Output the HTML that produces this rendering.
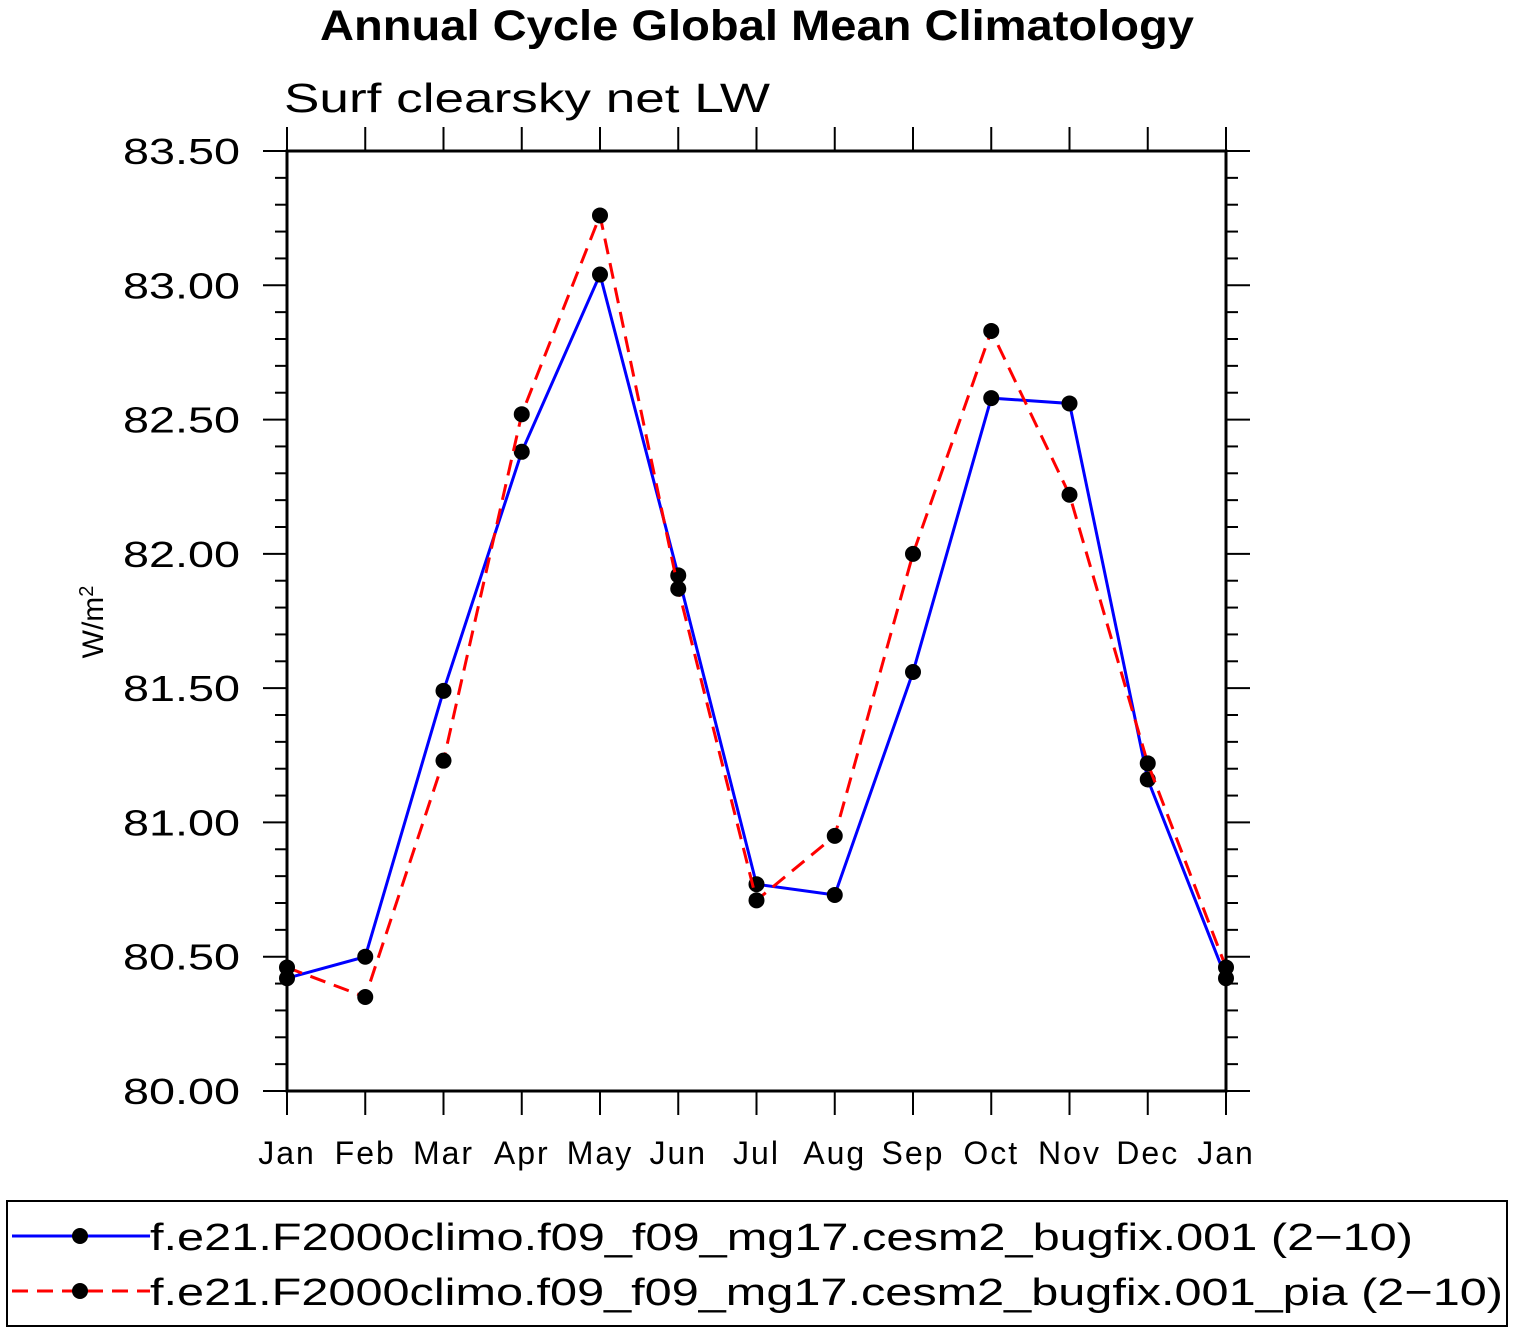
<!DOCTYPE html>
<html><head><meta charset="utf-8"><style>
html,body{margin:0;padding:0;background:#fff}
svg{display:block}
text{font-family:"Liberation Sans","DejaVu Sans",sans-serif}
</style></head><body>
<svg id="chart" width="1514" height="1332" xmlns="http://www.w3.org/2000/svg">
<text x="320" y="40" textLength="874" lengthAdjust="spacingAndGlyphs" font-size="43" font-weight="bold">Annual Cycle Global Mean Climatology</text>
<text x="284" y="112" textLength="486" lengthAdjust="spacingAndGlyphs" font-size="41">Surf clearsky net LW</text>
<text transform="translate(103,622) rotate(-90)" text-anchor="middle" font-size="30">W/m<tspan font-size="20" dy="-10">2</tspan></text>
<g id="axes"></g>
<g id="series"></g>
<rect x="7" y="1201" width="1500" height="125" fill="none" stroke="#000" stroke-width="2"/>
<g>
<line x1="12" y1="1236" x2="150" y2="1236" stroke="#00f" stroke-width="3"/>
<circle cx="80" cy="1236" r="8" fill="#000"/>
<text x="150" y="1250" textLength="1263" lengthAdjust="spacingAndGlyphs" font-size="38">f.e21.F2000climo.f09_f09_mg17.cesm2_bugfix.001 (2−10)</text>
</g>
<g>
<line x1="12" y1="1291" x2="150" y2="1291" stroke="#f00" stroke-width="3" stroke-dasharray="16,9"/>
<circle cx="80" cy="1291" r="8" fill="#000"/>
<text x="150" y="1305" textLength="1353" lengthAdjust="spacingAndGlyphs" font-size="38">f.e21.F2000climo.f09_f09_mg17.cesm2_bugfix.001_pia (2−10)</text>
</g>
</svg>
<script>
const months = ["Jan","Feb","Mar","Apr","May","Jun","Jul","Aug","Sep","Oct","Nov","Dec","Jan"];
const controlValues = [80.42,80.50,81.49,82.38,83.04,81.92,80.77,80.73,81.56,82.58,82.56,81.16,80.42];
const piaValues = [80.46,80.35,81.23,82.52,83.26,81.87,80.71,80.95,82.00,82.83,82.22,81.22,80.46];
const yTicks = ["80.00","80.50","81.00","81.50","82.00","82.50","83.00","83.50"];
const NS="http://www.w3.org/2000/svg";
const X0=287,X1=1226,Y0=1091,Y1=151,YMIN=80,YMAX=83.5;
const xs=i=>X0+(X1-X0)*i/(months.length-1);
const ys=v=>Y0-(v-YMIN)/(YMAX-YMIN)*(Y0-Y1);
function mk(tag,attrs,parent){const e=document.createElementNS(NS,tag);for(const k in attrs)e.setAttribute(k,attrs[k]);parent.appendChild(e);return e;}
const ax=document.getElementById('axes');
const frame=mk('rect',{x:X0,y:Y1,width:X1-X0,height:Y0-Y1,fill:'none',stroke:'#000','stroke-width':3},ax);


for(let k=0;k<=35;k++){const v=80+k*0.1;const y=ys(v);const major=k%5===0;const L=major?24:12;
mk('line',{x1:X0-L,y1:y,x2:X0,y2:y,stroke:'#000','stroke-width':2},ax);
mk('line',{x1:X1,y1:y,x2:X1+L,y2:y,stroke:'#000','stroke-width':2},ax);}
yTicks.forEach(t=>{const el=mk('text',{x:240,y:ys(parseFloat(t))+13,'text-anchor':'end',textLength:117,lengthAdjust:'spacingAndGlyphs','font-size':36},ax);el.textContent=t;

});
months.forEach((m,i)=>{const x=xs(i);
mk('line',{x1:x,y1:Y0,x2:x,y2:Y0+24,stroke:'#000','stroke-width':2},ax);
mk('line',{x1:x,y1:Y1-24,x2:x,y2:Y1,stroke:'#000','stroke-width':2},ax);
const el=mk('text',{x:x,y:1164,'text-anchor':'middle','font-size':32,'letter-spacing':2},ax);el.textContent=m;

});
const sg=document.getElementById('series');
function series(vals,color,dash,name){
const pts=vals.map((v,i)=>xs(i)+','+ys(v)).join(' ');
const pl=mk('polyline',{points:pts,fill:'none',stroke:color,'stroke-width':3,'stroke-dasharray':dash},sg);


vals.forEach((v,i)=>{const c=mk('circle',{cx:xs(i),cy:ys(v),r:8,fill:'#000'},sg);

});}
series(controlValues,'#00f','none','control');
series(piaValues,'#f00','16,9','pia');
</script>
</body></html>
